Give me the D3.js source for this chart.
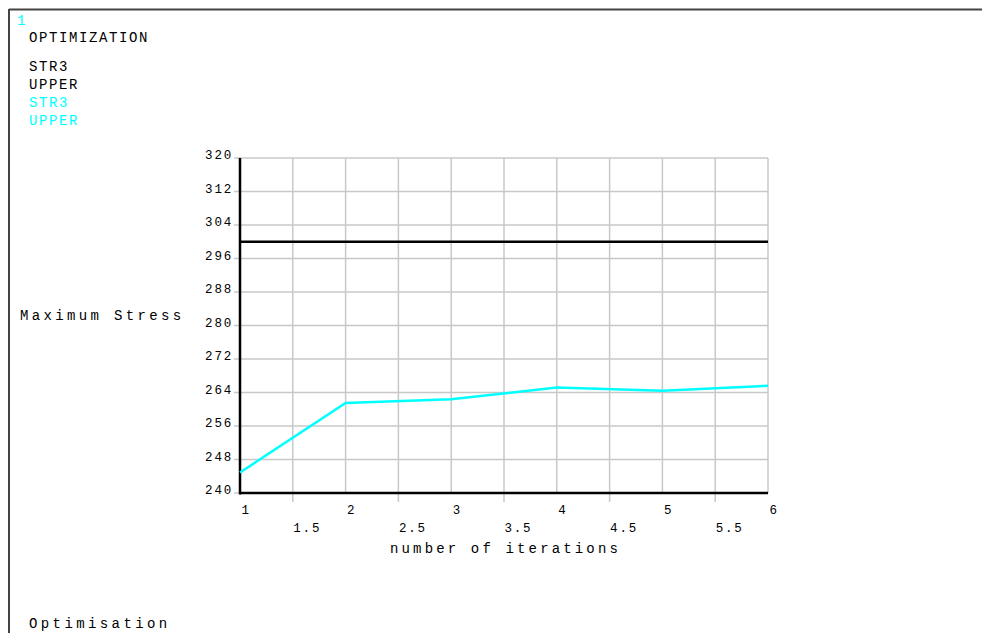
<!DOCTYPE html>
<html>
<head>
<meta charset="utf-8">
<script src="https://cdn.jsdelivr.net/npm/d3@7"></script>
<style>
  body { margin: 0; background: #fff; }
  svg { display: block; }
  text { font-family: "Liberation Mono", "DejaVu Sans Mono", monospace; fill: #000; }
</style>
</head>
<body>
<svg id="chart"></svg>
<script>
// data
const iterations = [1, 2, 3, 4, 5, 6];
const str3 = [244.9, 261.5, 262.4, 265.2, 264.4, 265.6];
const upper = [300, 300, 300, 300, 300, 300];
const xTicks = [1, 1.5, 2, 2.5, 3, 3.5, 4, 4.5, 5, 5.5, 6];
const yTicks = [240, 248, 256, 264, 272, 280, 288, 296, 304, 312, 320];
const legendNames = ["STR3", "UPPER", "STR3", "UPPER"];
const legendColors = ["#000", "#000", "#00ffff", "#00ffff"];

const width = 982;
const height = 633;
const cyan = "#00ffff";

const svg = d3.select("#chart")
  .attr("width", width)
  .attr("height", height);

// window frame (only top and left edges show)
svg.append("line").attr("x1", 9).attr("x2", width).attr("y1", 9.5).attr("y2", 9.5)
  .attr("stroke", "#444").attr("stroke-width", 2);
svg.append("line").attr("x1", 9).attr("x2", 9).attr("y1", 9).attr("y2", height)
  .attr("stroke", "#444").attr("stroke-width", 2);

// header texts
svg.append("text").attr("x", 17).attr("y", 25).text("1")
  .style("fill", cyan).style("font-size", "14px");
svg.append("text").attr("x", 29).attr("y", 42).text("OPTIMIZATION")
  .style("font-size", "14px").style("letter-spacing", "1.6px");

svg.selectAll(".legend")
  .data(legendNames)
  .enter()
  .append("text")
  .attr("class", "legend")
  .attr("x", 29)
  .attr("y", (d, i) => 71 + i * 18)
  .text(d => d)
  .style("fill", (d, i) => legendColors[i])
  .style("font-size", "14px")
  .style("letter-spacing", "1.6px");

// plot area
const x = d3.scaleLinear().domain([1, 6]).range([240, 768]);
const y = d3.scaleLinear().domain([240, 320]).range([493, 158]);

// grid
svg.append("g").selectAll("line")
  .data(xTicks)
  .enter()
  .append("line")
  .attr("x1", d => x(d)).attr("x2", d => x(d))
  .attr("y1", y(320)).attr("y2", d => Number.isInteger(d) ? y(240) : y(240) + 9)
  .attr("stroke", "#c8c8c8").attr("stroke-width", 1.5);

svg.append("g").selectAll("line")
  .data(yTicks)
  .enter()
  .append("line")
  .attr("x1", x(1) - 6).attr("x2", x(6))
  .attr("y1", d => y(d)).attr("y2", d => y(d))
  .attr("stroke", "#c8c8c8").attr("stroke-width", 1.5);

// y axis labels
const yAxis = d3.axisLeft(y).tickValues(yTicks).tickSize(0).tickPadding(7);
const gy = svg.append("g")
  .attr("transform", `translate(${x(1)}, 0)`)
  .call(yAxis);
gy.select(".domain").remove();
gy.selectAll("text")
  .attr("dy", "0.05em")
  .style("font-size", "12.5px")
  .style("letter-spacing", "1.8px");

// x axis labels: whole numbers on first row, halves on second
const xAxis = d3.axisBottom(x).tickValues(xTicks).tickSize(0).tickFormat(d => String(d));
const gx = svg.append("g")
  .attr("transform", `translate(0, ${y(240)})`)
  .call(xAxis);
gx.select(".domain").remove();
gx.selectAll("text")
  .attr("text-anchor", "start")
  .attr("x", d => Number.isInteger(d) ? 1 : 0)
  .attr("y", d => Number.isInteger(d) ? 21 : 39)
  .attr("dy", 0)
  .style("font-size", "12.5px")
  .style("letter-spacing", "1.8px");

// axis lines
svg.append("line")
  .attr("x1", x(1)).attr("x2", x(1)).attr("y1", y(320)).attr("y2", y(240) + 1.5)
  .attr("stroke", "#000").attr("stroke-width", 2.5);
svg.append("line")
  .attr("x1", x(1)).attr("x2", x(6)).attr("y1", y(240)).attr("y2", y(240))
  .attr("stroke", "#000").attr("stroke-width", 2.5);

// series
const line = d3.line()
  .x((d, i) => x(iterations[i]))
  .y(d => y(d));

svg.append("path")
  .datum(upper)
  .attr("d", line)
  .attr("fill", "none")
  .attr("stroke", "#000")
  .attr("stroke-width", 2.5);

svg.append("path")
  .datum(str3)
  .attr("d", line)
  .attr("fill", "none")
  .attr("stroke", cyan)
  .attr("stroke-width", 2.5);

// axis titles
svg.append("text").attr("x", 20).attr("y", 320).text("Maximum Stress")
  .style("font-size", "14px").style("letter-spacing", "3.35px");
svg.append("text").attr("x", 390).attr("y", 553).text("number of iterations")
  .style("font-size", "14px").style("letter-spacing", "3.15px");
svg.append("text").attr("x", 29).attr("y", 628).text("Optimisation")
  .style("font-size", "14px").style("letter-spacing", "3.4px");
</script>
</body>
</html>
